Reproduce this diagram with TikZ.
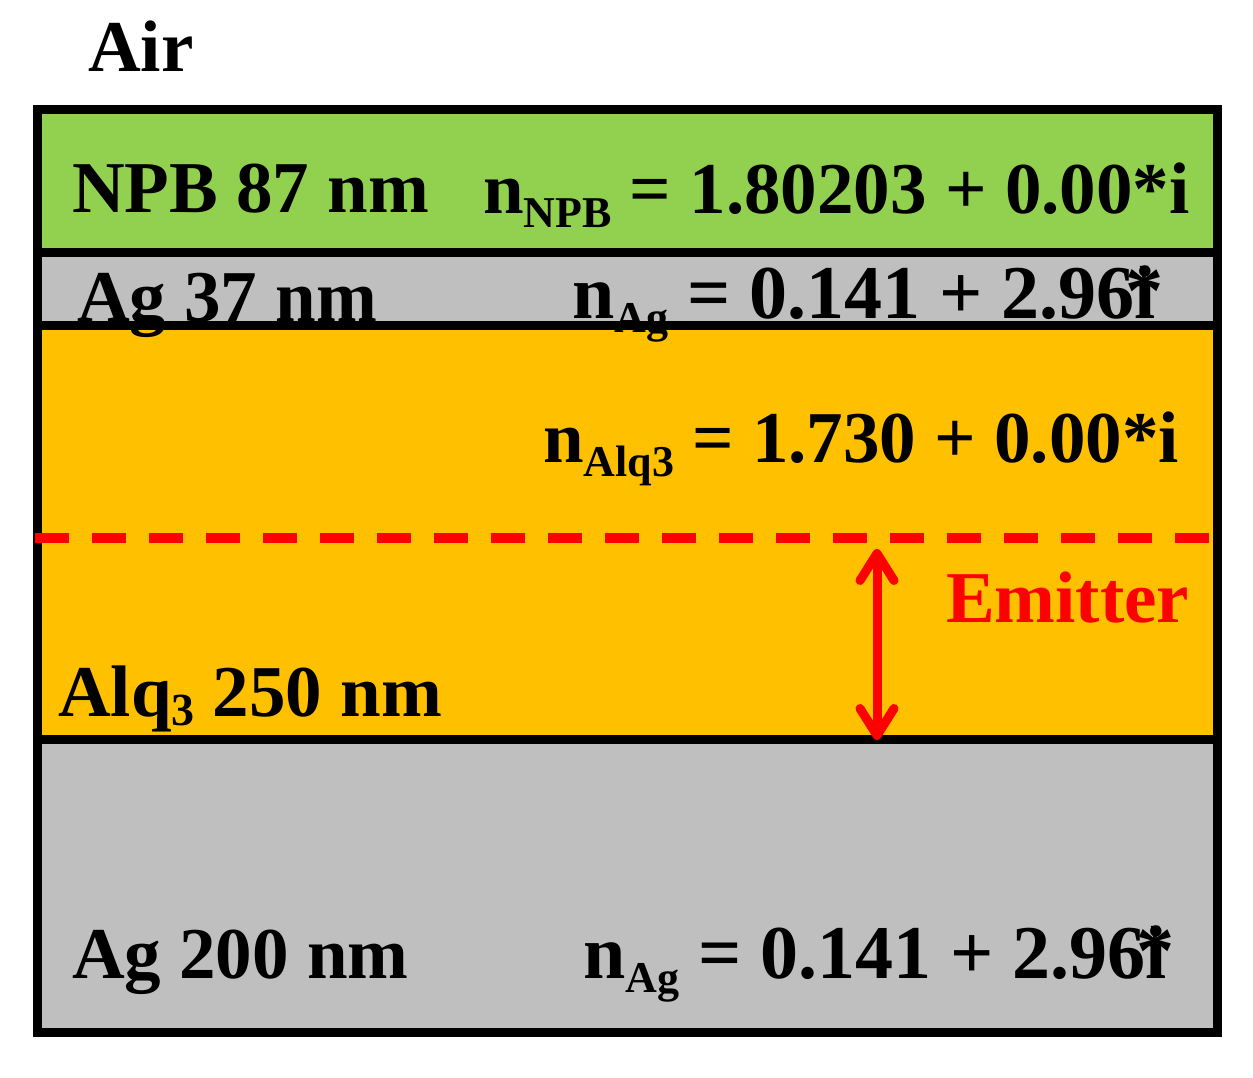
\documentclass[tikz,border=0pt]{standalone}
\usepackage{fontspec}
\setmainfont{Liberation Serif}
\usetikzlibrary{arrows.meta}
\definecolor{npbgreen}{HTML}{92D050}
\definecolor{aggray}{HTML}{BFBFBF}
\definecolor{alqorange}{HTML}{FFC000}
\definecolor{emred}{HTML}{FF0000}
\newcommand{\bigfnt}{\fontsize{73}{80}\selectfont\bfseries}
\newcommand{\agfnt}{\fontsize{76}{82}\selectfont\bfseries}
\newcommand{\subtxt}[1]{\raisebox{-14pt}{\fontsize{44}{48}\selectfont\bfseries #1}}
\newcommand{\smallsub}[1]{\raisebox{-9pt}{\fontsize{46}{50}\selectfont\bfseries #1}}
\newcommand{\stari}{\makebox[0pt][l]{\hspace{-9pt}\raisebox{2pt}{*}}i}
\begin{document}
\begin{tikzpicture}[x=1pt,y=-1pt,
  lbl/.style={anchor=base west,inner sep=0pt,outer sep=0pt,font=\bigfnt,text=black},
  aglbl/.style={lbl,font=\agfnt},
  sepline/.style={line width=9pt,black},
  emarrow/.style={line width=9pt,emred,{Straight Barb[length=27pt,width=34pt,round]}-{Straight Barb[length=27pt,width=34pt,round]}},
  emdash/.style={line width=10pt,emred,dash pattern=on 34pt off 23pt,dash phase=55pt}]
\useasboundingbox (0,0) rectangle (1253,1078);
% layers
\fill[npbgreen] (37.5,109.5) rectangle (1217.5,252.5);
\fill[aggray] (37.5,252.5) rectangle (1217.5,325.5);
\fill[alqorange] (37.5,325.5) rectangle (1217.5,739);
\fill[aggray] (37.5,739) rectangle (1217.5,1032.5);
% separators and frame
\coordinate (s1l) at (37.5,252.5); \coordinate (s1r) at (1217.5,252.5);
\coordinate (s2l) at (37.5,325.5); \coordinate (s2r) at (1217.5,325.5);
\coordinate (s3l) at (37.5,739); \coordinate (s3r) at (1217.5,739);
\draw[sepline] (s1l) -- (s1r);
\draw[sepline] (s2l) -- (s2r);
\draw[sepline] (s3l) -- (s3r);
\draw[sepline] (37.5,109.5) rectangle (1217.5,1032.5);
% emitter plane
\coordinate (dashL) at (33,538); \coordinate (dashR) at (1217,538);
\draw[emdash] (dashL) -- (dashR);
\coordinate (emtop) at (877,549); \coordinate (embot) at (877,740);
\draw[emarrow] (emtop) -- (embot);
% texts
\node[lbl] (air) at (88,72) {Air};
\node[lbl] (npb) at (72,213) {NPB 87 nm};
\node[lbl] (nnpb) at (483,214) {n\subtxt{NPB} = 1.80203 + 0.00*i};
\node[lbl] (ag1) at (77,321) {Ag 37 nm};
\node[aglbl] (nag1) at (572,318) {n\subtxt{Ag} = 0.141 + 2.96\stari};
\node[lbl] (nalq) at (543,462) {n\subtxt{Alq3} = 1.730 + 0.00*i};
\node[lbl,text=emred] (emit) at (946,622) {Emitter};
\node[lbl] (alq) at (58,716) {Alq\smallsub{3} 250 nm};
\node[lbl] (ag2) at (72,978) {Ag 200 nm};
\node[aglbl] (nag2) at (583,978) {n\subtxt{Ag} = 0.141 + 2.96\stari};
\end{tikzpicture}
\end{document}
